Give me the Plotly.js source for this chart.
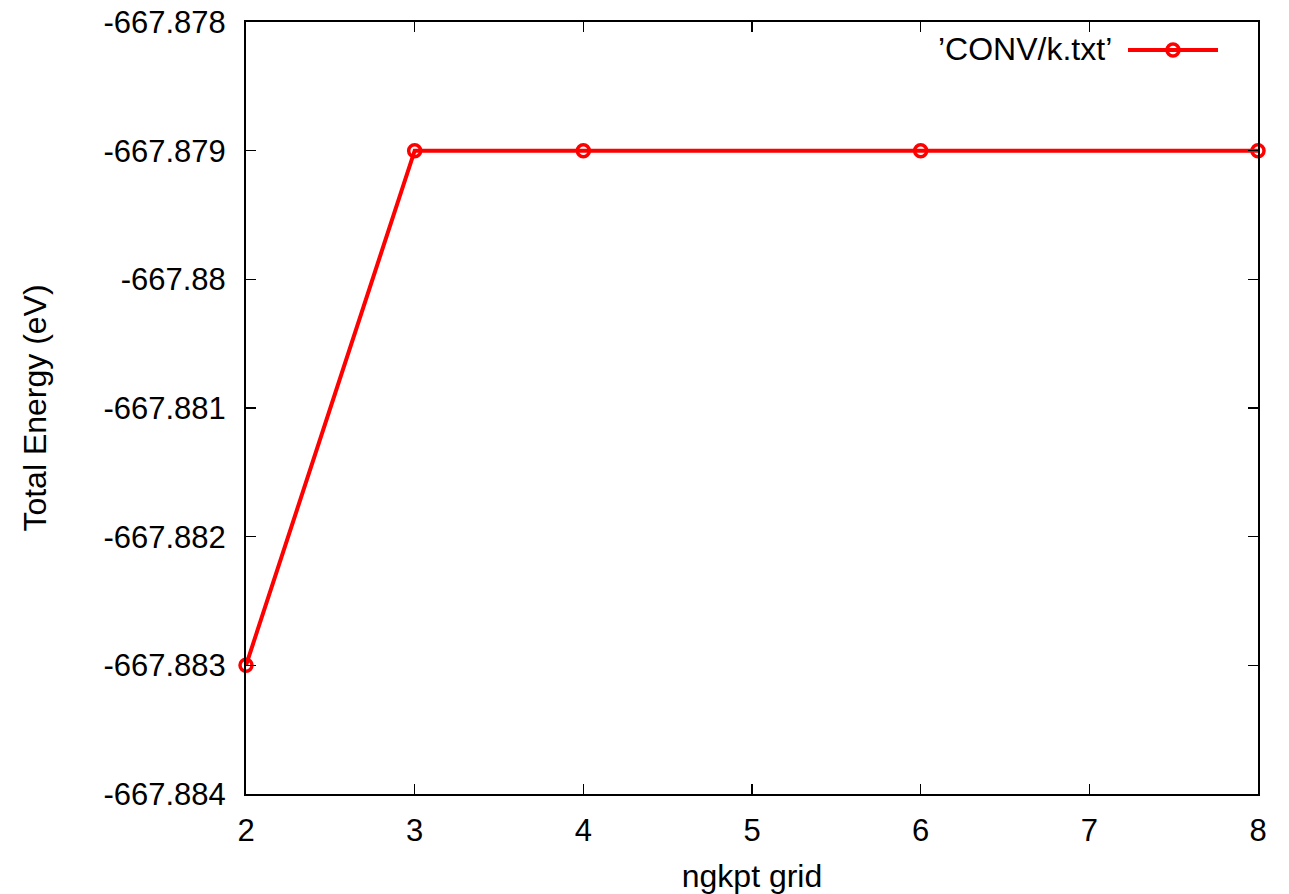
<!DOCTYPE html>
<html>
<head>
<meta charset="utf-8">
<script src="https://cdn.plot.ly/plotly-3.0.1.min.js"></script>
<style>html,body{margin:0;padding:0;background:#fff;}#chart{width:1289px;height:894px;}</style>
</head>
<body>
<div id="chart"></div>
<script>
const kGrid = [2, 3, 4, 6, 8];
const totalEnergy = [-667.883, -667.879, -667.879, -667.879, -667.879];
const yTickVals = [-667.884, -667.883, -667.882, -667.881, -667.880, -667.879, -667.878];
const yTickText = ['-667.884', '-667.883', '-667.882', '-667.881', '-667.88', '-667.879', '-667.878'];
const seriesName = '\u2019CONV/k.txt\u2019';

const font = {family: 'Liberation Sans, Arial, Helvetica, sans-serif', size: 31, color: '#000'};
const titleFont = {family: 'Liberation Sans, Arial, Helvetica, sans-serif', size: 32, color: '#000'};

const trace = {
  x: kGrid, y: totalEnergy, type: 'scatter', mode: 'lines+markers',
  name: seriesName,
  line: {color: '#ff0000', width: 4},
  marker: {symbol: 'circle-open', size: 12, color: '#ff0000', line: {color: '#ff0000', width: 3.5}},
  cliponaxis: false, showlegend: false
};

const layout = {
  width: 1289, height: 894,
  margin: {l: 246, r: 31, t: 22, b: 100},
  paper_bgcolor: '#fff', plot_bgcolor: '#fff',
  font: font,
  showlegend: false,
  xaxis: {
    range: [2, 8], dtick: 1, tick0: 2, showgrid: false, zeroline: false,
    showline: true, linecolor: '#000', linewidth: 2, mirror: 'ticks',
    ticks: 'inside', ticklen: 10, tickwidth: 1.5, tickcolor: '#000',
    tickfont: font, ticklabelstandoff: 8,
    title: {text: 'ngkpt grid', font: titleFont, standoff: 18}
  },
  yaxis: {
    range: [-667.884, -667.878], tickvals: yTickVals, ticktext: yTickText,
    showgrid: false, zeroline: false,
    showline: true, linecolor: '#000', linewidth: 2, mirror: 'ticks',
    ticks: 'inside', ticklen: 10, tickwidth: 1.5, tickcolor: '#000',
    tickfont: font, ticklabelstandoff: 12,
    title: {text: 'Total Energy (eV)', font: titleFont, standoff: 47}
  },
  annotations: [{
    xref: 'paper', yref: 'paper', x: (1114 - 246) / 1012, y: 1 - (49 - 22) / 772,
    xanchor: 'right', yanchor: 'middle', text: seriesName, showarrow: false, font: titleFont
  }],
  shapes: [
    {type: 'line', xref: 'paper', yref: 'paper', x0: (1128 - 246) / 1012, x1: (1218 - 246) / 1012,
     y0: 1 - (50 - 22) / 772, y1: 1 - (50 - 22) / 772, line: {color: '#ff0000', width: 4}},
    {type: 'circle', xref: 'paper', yref: 'paper',
     x0: (1167 - 246) / 1012, x1: (1179 - 246) / 1012,
     y0: 1 - (56 - 22) / 772, y1: 1 - (44 - 22) / 772,
     line: {color: '#ff0000', width: 3.5}, fillcolor: 'rgba(0,0,0,0)'}
  ]
};

Plotly.newPlot('chart', [trace], layout, {staticPlot: true, displayModeBar: false});
</script>
</body>
</html>
